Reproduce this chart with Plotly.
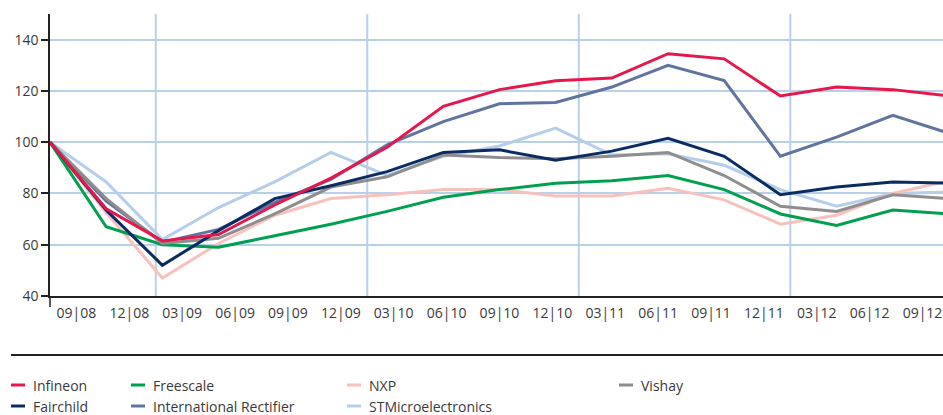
import plotly.graph_objects as go

quarters = ["09|08", "12|08", "03|09", "06|09", "09|09", "12|09", "03|10", "06|10", "09|10",
            "12|10", "03|11", "06|11", "09|11", "12|11", "03|12", "06|12", "09|12"]
y_ticks = [40, 60, 80, 100, 120, 140]

infineon = [100, 74, 61.5, 64, 75.5, 86, 98, 114, 120.5, 124, 125, 134.5, 132.5, 118, 121.5, 120.5, 118]
fairchild = [100, 73.5, 52, 65.5, 78, 83, 88.5, 96, 97, 93, 96.5, 101.5, 94.5, 79.5, 82.5, 84.5, 84]
freescale = [100, 67, 60, 59, 63.5, 68, 73, 78.5, 81.5, 84, 85, 87, 81.5, 72, 67.5, 73.5, 72]
intl_rectifier = [100, 77, 61, 66, 76.5, 85.5, 99, 108, 115, 115.5, 121.5, 130, 124, 94.5, 102, 110.5, 103.5]
nxp = [100, 72.5, 47, 60.5, 71.5, 78, 79.5, 81.5, 81.5, 79, 79, 82, 77.5, 68, 71.5, 80, 85]
stmicro = [100, 84.5, 62, 74.5, 84.5, 96, 87, 94.5, 98.5, 105.5, 95, 95.5, 91, 81.5, 75, 80, 80.5]
vishay = [100, 78, 60.5, 62.5, 72, 82.5, 86.5, 95, 94, 93.5, 94.5, 96, 87, 75, 73, 79.5, 78]

series = {
    "Infineon": (infineon, "#e5174c"),
    "Fairchild": (fairchild, "#0b2c60"),
    "Freescale": (freescale, "#00a050"),
    "International Rectifier": (intl_rectifier, "#61739f"),
    "NXP": (nxp, "#f7c2bd"),
    "STMicroelectronics": (stmicro, "#b6cee9"),
    "Vishay": (vishay, "#8e8e8e"),
}
draw_order = ["STMicroelectronics", "NXP", "Freescale", "International Rectifier",
              "Vishay", "Fairchild", "Infineon"]
# legend layout: name -> (column, row)
legend_pos = {
    "Infineon": (0, 0), "Fairchild": (0, 1),
    "Freescale": (1, 0), "International Rectifier": (1, 1),
    "NXP": (2, 0), "STMicroelectronics": (2, 1),
    "Vishay": (3, 0),
}

W, H = 943, 415
L, R, T, B = 50, 0, 14, 119
pw, ph = W - L - R, H - T - B
cat_w = 52.88
grid_col = "#b9d0ea"
axis_col = "#222222"
txt_col = "#3a3a3a"
font_fam = "Open Sans, Noto Sans, sans-serif"

fig = go.Figure()
for name in draw_order:
    vals, col = series[name]
    fig.add_trace(go.Scatter(x=quarters, y=vals, mode="lines", name=name,
                             line=dict(color=col, width=3), xaxis="x2", yaxis="y",
                             showlegend=False, hoverinfo="skip"))

x_right = -0.5 + pw / cat_w
data_right = 16 * pw / (17 * cat_w)

shapes = []
for b in [1.5, 5.5, 9.5, 13.5]:
    shapes.append(dict(type="line", xref="x", yref="paper", x0=b, x1=b, y0=0, y1=1,
                       line=dict(color=grid_col, width=2), layer="below"))
# y-axis extension below x axis
shapes.append(dict(type="line", xref="paper", yref="paper", x0=0, x1=0, y0=0, y1=-11 / ph,
                   line=dict(color=axis_col, width=1.5)))
# separator above legend
sep_y = -(355 - (T + ph)) / ph
shapes.append(dict(type="line", xref="paper", yref="paper", x0=(11 - L) / pw, x1=1,
                   y0=sep_y, y1=sep_y, line=dict(color=axis_col, width=2)))

col_sym_x = [11, 131, 347, 619]
row_y = [385, 406]
annotations = []
for name, (c, r) in legend_pos.items():
    col = series[name][1]
    yp = -(row_y[r] - (T + ph)) / ph
    x0 = (col_sym_x[c] - L) / pw
    x1 = (col_sym_x[c] + 14 - L) / pw
    shapes.append(dict(type="line", xref="paper", yref="paper", x0=x0, x1=x1, y0=yp, y1=yp,
                       line=dict(color=col, width=3)))
    annotations.append(dict(xref="paper", yref="paper", x=(col_sym_x[c] + 20 - L) / pw, y=yp,
                            text=name, showarrow=False, xanchor="left", yanchor="middle",
                            font=dict(size=14, color=txt_col, family=font_fam)))

fig.update_layout(
    width=W, height=H,
    margin=dict(l=L, r=R, t=T, b=B, pad=0),
    paper_bgcolor="white", plot_bgcolor="white",
    showlegend=False,
    font=dict(family=font_fam, size=14, color=txt_col),
    xaxis=dict(type="category", categoryorder="array", categoryarray=quarters,
               tickvals=quarters, ticktext=quarters,
               range=[-0.5, x_right], showgrid=False, zeroline=False,
               showline=True, linecolor=axis_col, linewidth=1.5,
               ticks="outside", ticklen=3, tickcolor="rgba(0,0,0,0)",
               tickfont=dict(size=14, color=txt_col), fixedrange=True),
    xaxis2=dict(type="category", categoryorder="array", categoryarray=quarters,
                overlaying="x", anchor="y", range=[0, data_right], visible=False),
    yaxis=dict(range=[40, 150], tickvals=y_ticks, showgrid=True, gridcolor=grid_col,
               gridwidth=2, zeroline=False, showline=True, linecolor=axis_col, linewidth=1.5,
               ticks="outside", ticklen=7, tickwidth=1.5, tickcolor=axis_col,
               tickfont=dict(size=14, color=txt_col)),
    shapes=shapes,
    annotations=annotations,
)

fig.write_html("out.html", config={"displayModeBar": False},
               post_script="document.body.style.margin='0';document.body.style.overflow='hidden';")
